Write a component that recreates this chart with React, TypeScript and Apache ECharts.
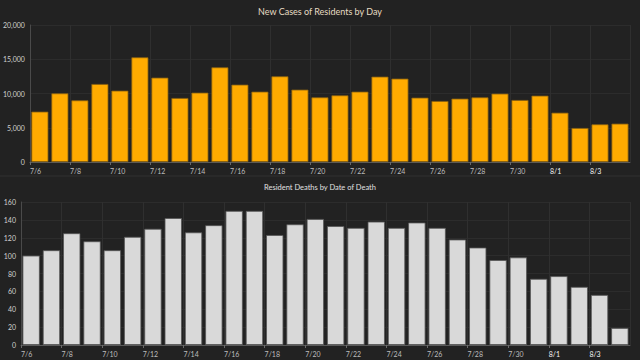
import React, { useEffect, useRef } from "react";
import * as echarts from "echarts";

const dates = [
  "7/6", "7/7", "7/8", "7/9", "7/10", "7/11", "7/12", "7/13", "7/14", "7/15",
  "7/16", "7/17", "7/18", "7/19", "7/20", "7/21", "7/22", "7/23", "7/24", "7/25",
  "7/26", "7/27", "7/28", "7/29", "7/30", "7/31", "8/1", "8/2", "8/3", "8/4",
];

const newCases = [
  7350, 10020, 9000, 11390, 10410, 15280, 12310, 9340, 10120, 13820,
  11290, 10270, 12510, 10560, 9440, 9730, 10270, 12460, 12170, 9390,
  8900, 9250, 9440, 9980, 9050, 9680, 7200, 4960, 5500, 5600,
];

const deaths = [
  100, 106, 125, 116, 106, 121, 130, 142, 126, 134,
  150, 150, 123, 135, 141, 133, 131, 138, 131, 137,
  131, 118, 109, 95, 98, 74, 77, 65, 56, 19,
];

const casesTicks = [0, 5000, 10000, 15000, 20000];
const deathTicks = [0, 20, 40, 60, 80, 100, 120, 140, 160];

const BG = "#222222";
const FONT = "Lato, 'Open Sans', sans-serif";

export default function App() {
  const ref = useRef<HTMLDivElement>(null);

  useEffect(() => {
    if (!ref.current) return;
    const chart = echarts.init(ref.current, undefined, { renderer: "svg" });

    const labelFormatter = (v: number) => {
      if (v >= dates.length) return "";
      const d = dates[v];
      return d.startsWith("8/") ? `{b|${d}}` : d;
    };

    const makeLabelAxis = (gridIndex: number) => ({
      type: "value",
      gridIndex,
      position: "bottom",
      min: 0,
      max: dates.length,
      interval: 2,
      axisLine: { show: true, lineStyle: { color: "#5a5a5a", width: 1 } },
      axisTick: { show: true, length: 3, lineStyle: { color: "#6a6a6a" } },
      splitLine: { show: true, lineStyle: { color: "#2f2f2f", width: 1 } },
      axisLabel: {
        formatter: labelFormatter,
        align: "left",
        margin: 5,
        color: "#bdbdbd",
        fontSize: 7,
        fontFamily: FONT,
        showMaxLabel: false,
        rich: { b: { color: "#f4f4f4", fontSize: 7, fontFamily: FONT } },
      },
    });

    chart.setOption({
      animation: false,
      backgroundColor: BG,
      textStyle: { fontFamily: FONT },
      title: [
        {
          text: "New Cases of Residents by Day",
          left: "center",
          top: 2,
          textStyle: { color: "#e6dcc2", fontSize: 9, fontWeight: "normal", fontFamily: FONT },
        },
        {
          text: "Resident Deaths by Date of Death",
          left: "center",
          top: 178,
          textStyle: { color: "#e0e0e0", fontSize: 7.5, fontWeight: "normal", fontFamily: FONT },
        },
      ],
      graphic: [
        {
          type: "line",
          shape: { x1: 0, y1: 176, x2: 640, y2: 176 },
          style: { stroke: "#303030", lineWidth: 1 },
        },
      ],
      grid: [
        { left: 28, right: 10, top: 25, bottom: 198 },
        { left: 21, right: 10, top: 202, bottom: 15 },
      ],
      xAxis: [
        { type: "category", gridIndex: 0, data: dates, show: false, position: "bottom", boundaryGap: true },
        makeLabelAxis(0),
        { type: "category", gridIndex: 1, data: dates, show: false, position: "bottom", boundaryGap: true },
        makeLabelAxis(1),
      ],
      yAxis: [
        {
          type: "value",
          gridIndex: 0,
          min: casesTicks[0],
          max: casesTicks[casesTicks.length - 1],
          interval: 5000,
          axisLine: { show: true, lineStyle: { color: "#4a4a4a" } },
          axisTick: { show: false },
          splitLine: { show: true, lineStyle: { color: "#2c2c2c" } },
          axisLabel: {
            color: "#d0d0d0",
            fontSize: 7,
            margin: 5,
            fontFamily: FONT,
            formatter: (v: number) => v.toLocaleString("en-US"),
          },
        },
        {
          type: "value",
          gridIndex: 1,
          min: deathTicks[0],
          max: deathTicks[deathTicks.length - 1],
          interval: 20,
          axisLine: { show: true, lineStyle: { color: "#4a4a4a" } },
          axisTick: { show: false },
          splitLine: { show: true, lineStyle: { color: "#2c2c2c" } },
          axisLabel: { color: "#d0d0d0", fontSize: 7, margin: 5, fontFamily: FONT },
        },
      ],
      series: [
        {
          type: "bar",
          xAxisIndex: 0,
          yAxisIndex: 0,
          data: newCases,
          barCategoryGap: "15%",
          itemStyle: { color: "#ffab00", borderColor: "#8a6210", borderWidth: 0.8 },
        },
        {
          type: "bar",
          xAxisIndex: 2,
          yAxisIndex: 1,
          data: deaths,
          barCategoryGap: "15%",
          itemStyle: { color: "#d9d9d9", borderColor: "#555555", borderWidth: 0.8 },
        },
      ],
    });

    return () => chart.dispose();
  }, []);

  return (
    <div style={{ position: "fixed", left: 0, top: 0, width: 640, height: 360, background: BG }}>
      <div ref={ref} style={{ width: 640, height: 360 }} />
    </div>
  );
}
